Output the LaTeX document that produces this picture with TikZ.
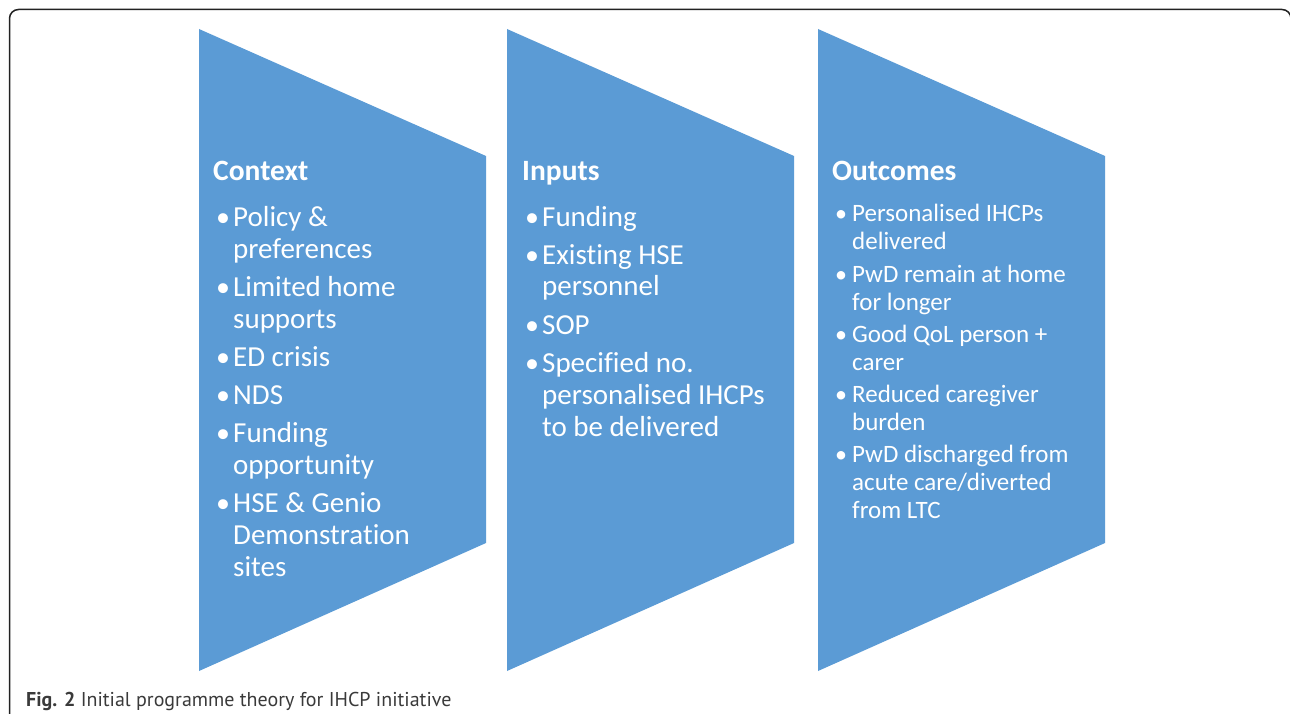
\documentclass[tikz,border=0pt]{standalone}
\usepackage{fontspec}
\setmainfont{Carlito}[Ligatures=NoCommon]
\newfontfamily\capfont{PT Sans}
\definecolor{shapeblue}{HTML}{5B9BD5}
\definecolor{captxt}{HTML}{3A3A3A}
\definecolor{framecol}{HTML}{222222}
\tikzset{
  panel/.style={fill=shapeblue},
  ttl/.style={anchor=base west, inner sep=0pt, text=white, font=\fontsize{29.5}{32}\selectfont\bfseries},
  bulA/.style={anchor=base west, inner sep=0pt, text=white, font=\fontsize{28}{32}\selectfont},
  itmA/.style={anchor=base west, inner sep=0pt, text=white, font=\fontsize{29}{32}\selectfont},
  bulB/.style={anchor=base west, inner sep=0pt, text=white, font=\fontsize{24}{28}\selectfont},
  itmB/.style={anchor=base west, inner sep=0pt, text=white, font=\fontsize{25}{28}\selectfont},
  capt/.style={anchor=base west, inner sep=0pt, text=captxt, font=\capfont\fontsize{20}{24}\selectfont},
}
% name, bullet x, text x, baseline y, text
\newcommand\myitA[5]{%
  \node[bulA] (#1b) at (#2,#4) {\textbullet};
  \node[itmA] (#1) at (#3,#4) {\parbox[t]{260pt}{\raggedright #5}};}
\newcommand\myitB[5]{%
  \node[bulB] (#1b) at (#2,#4) {\textbullet};
  \node[itmB] (#1) at (#3,#4) {\parbox[t]{260pt}{\raggedright #5}};}
\begin{document}
\begin{tikzpicture}[x=1pt,y=-1pt]
\useasboundingbox (0,0) rectangle (1290,714);
\begin{scope}
\clip (0,0) rectangle (1290,714);
\draw[framecol, line width=1.5pt, rounded corners=9pt] (9.5,730) -- (9.5,9.5) -- (1291,9.5) -- (1291,730);
\end{scope}
% panels
\fill[panel] (199,29) -- (486,156) -- (486,543) -- (199,671) -- cycle;
\fill[panel] (507,29) -- (794,156) -- (794,543) -- (507,671) -- cycle;
\fill[panel] (818,29) -- (1105,156) -- (1105,543) -- (818,671) -- cycle;
% Context
\node[ttl] (ctx) at (213,181) {Context};
\myitA{c1}{216}{233}{226}{Policy \&\\preferences}
\myitA{c2}{216}{233}{296}{Limited home\\supports}
\myitA{c3}{216}{233}{366}{ED crisis}
\myitA{c4}{216}{233}{404}{NDS}
\myitA{c5}{216}{233}{442}{Funding\\opportunity}
\myitA{c6}{216}{233}{512}{HSE \& Genio\\Demonstration\\sites}
% Inputs
\node[ttl] (inp) at (522,181) {Inputs};
\myitA{i1}{525}{542}{226}{Funding}
\myitA{i2}{525}{542}{264}{Existing HSE\\personnel}
\myitA{i3}{525}{542}{334}{SOP}
\myitA{i4}{525}{542}{372}{Specified no.\\personalised IHCPs\\to be delivered}
% Outcomes
\node[ttl] (out) at (832,181) {Outcomes};
\myitB{o1}{835}{852}{222}{Personalised IHCPs\\delivered}
\myitB{o2}{835}{852}{282}{PwD remain at home\\for longer}
\myitB{o3}{835}{852}{342}{Good QoL person +\\carer}
\myitB{o4}{835}{852}{402}{Reduced caregiver\\burden}
\myitB{o5}{835}{852}{462}{PwD discharged from\\acute care/diverted\\from LTC}
% caption
\node[capt] (cap) at (26,706) {\textbf{Fig. 2} Initial programme theory for IHCP initiative};
\end{tikzpicture}
\end{document}
